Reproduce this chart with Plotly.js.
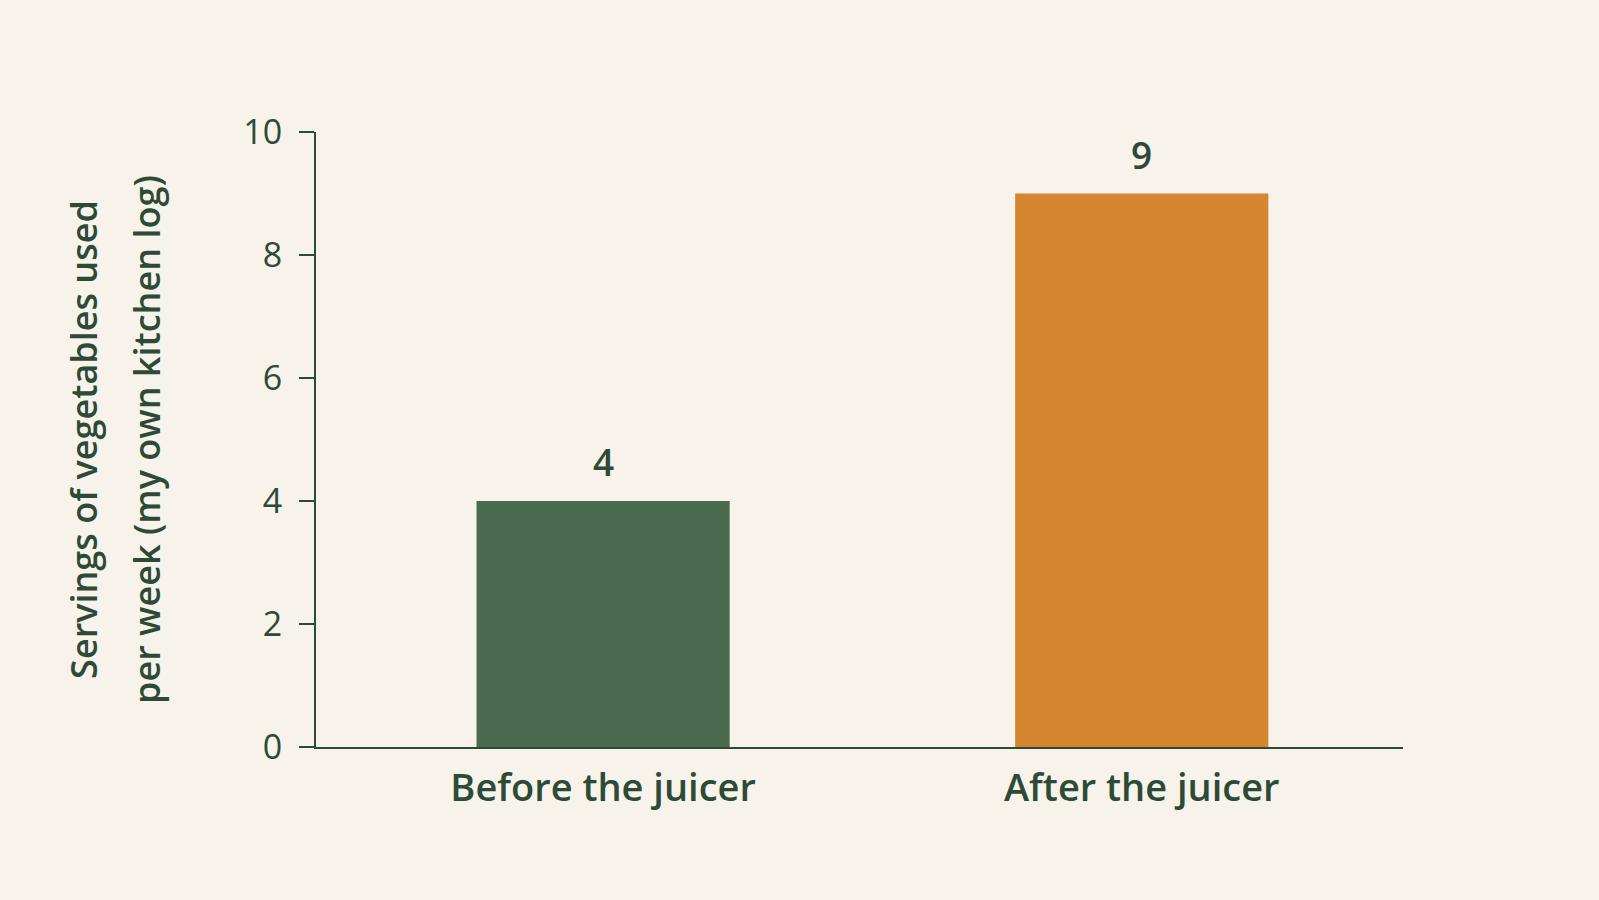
<!DOCTYPE html>
<html>
<head>
<meta charset="utf-8">
<script src="https://cdn.plot.ly/plotly-3.0.1.min.js"></script>
<style>
    html, body { margin: 0; padding: 0; background: #F7F3EA; }
    #chart { width: 1599px; height: 900px; }
</style>
</head>
<body>
<div id="chart"></div>
<script>
'use strict';

// Data
var categories = ['Before the juicer', 'After the juicer'];
var servings = [4, 9];
var barColors = ['#4A6A4F', '#D6862F'];
var titleLines = ['Servings of vegetables used', 'per week (my own kitchen log)'];

var ink = '#2D4A36';
var font = '"Open Sans", Lato, sans-serif';

function drawChart (node) {

    var traces = [{
        type: 'bar',
        x: categories,
        y: servings,
        width: 0.47,
        marker: { color: barColors },
        hoverinfo: 'none',
        showlegend: false
    }];

    // Value labels above the bars
    var annotations = categories.map(function (cat, i) {
        return {
            x: cat,
            y: servings[i],
            xref: 'x',
            yref: 'y',
            text: String(servings[i]),
            showarrow: false,
            yanchor: 'bottom',
            yshift: 12,
            font: { family: font, size: 37, color: ink, weight: 600 }
        };
    });

    // Two-line y title, placed by hand for the wide line gap
    var titleX = [-0.214, -0.156];
    titleLines.forEach(function (line, i) {
        annotations.push({
            x: titleX[i],
            y: 0.5,
            xref: 'paper',
            yref: 'paper',
            text: line,
            textangle: -90,
            showarrow: false,
            xanchor: 'center',
            yanchor: 'middle',
            font: { family: font, size: 36, color: ink, weight: 600 }
        });
    });

    Plotly.newPlot(node, traces, {
        width: 1599,
        height: 900,
        paper_bgcolor: '#F7F3EA',
        plot_bgcolor: '#F7F3EA',
        margin: { t: 132, b: 153, l: 316, r: 196 },
        xaxis: {
            type: 'category',
            range: [-0.533, 1.485],
            showline: true,
            linecolor: ink,
            linewidth: 2,
            ticks: '',
            showgrid: false,
            zeroline: false,
            ticklabelstandoff: 6,
            tickfont: { family: font, size: 38, color: ink, weight: 600 }
        },
        yaxis: {
            range: [0, 10],
            dtick: 2,
            showline: true,
            linecolor: ink,
            linewidth: 2,
            ticks: 'outside',
            ticklen: 15,
            tickwidth: 2,
            tickcolor: ink,
            showgrid: false,
            zeroline: false,
            ticklabelstandoff: 10,
            tickfont: { family: font, size: 34, color: ink }
        },
        annotations: annotations
    }, { displayModeBar: false, staticPlot: true });
}

drawChart(document.getElementById('chart'));
</script>
</body>
</html>
